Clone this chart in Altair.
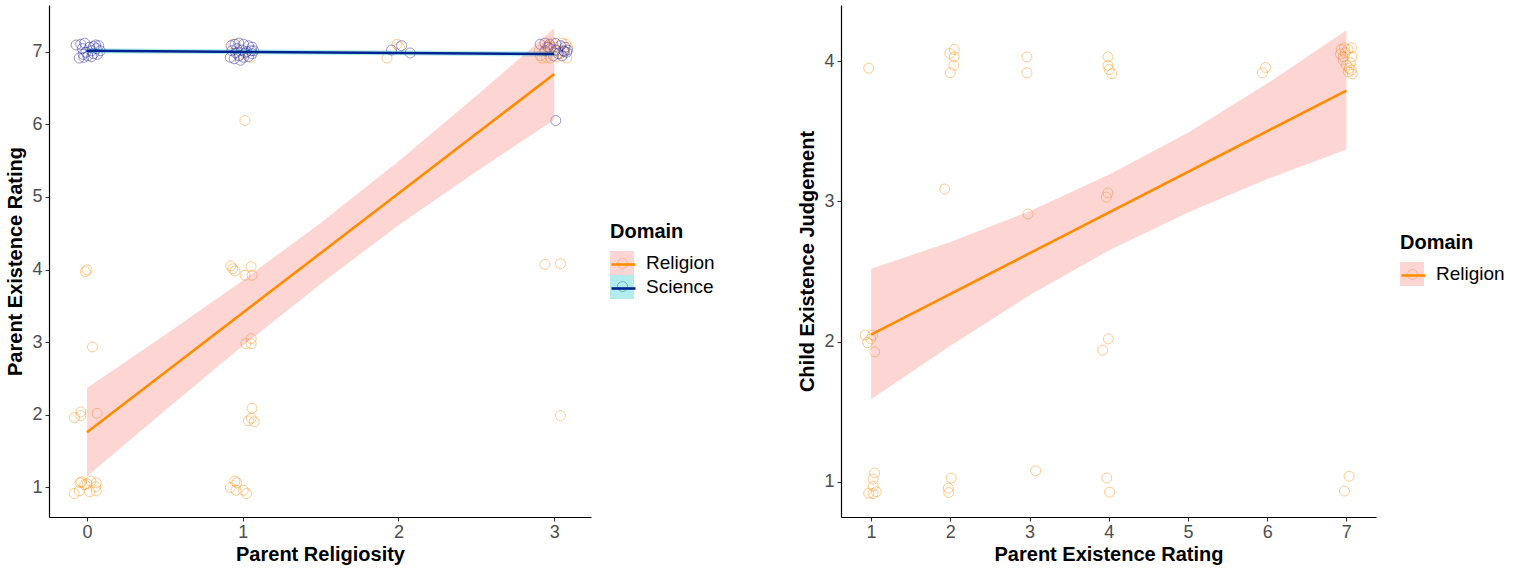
import altair as alt
import pandas as pd

FONT = "Liberation Sans"

# ---------------- Left panel: jittered points ----------------
rel1_x = [-0.082, -0.05, -0.045, -0.035, -0.015, 0.025, 0.017, 0.06, 0.055, 0.06, 0.0,
          -0.08, -0.04, -0.04, 0.065, 0.035, -0.01, 0.0,
          0.92, 0.95, 0.962, 0.957, 1.004, 1.024,
          1.06, 1.054, 1.036, 1.074, 1.02, 1.054, 1.054,
          0.923, 0.936, 0.95, 1.015, 1.053, 1.06, 1.014, 0.937, 1.05, 0.98,
          1.926, 1.99, 2.006,
          2.94, 3.04, 3.04,
          2.91, 2.92, 2.95, 2.975, 3.01, 3.04, 3.08, 3.075, 3.05, 2.99, 2.965, 3.085, 2.95, 3.02, 2.905, 3.0]
rel1_y = [0.917, 0.954, 1.065, 1.078, 1.04, 1.088, 0.94, 1.065, 1.01, 0.954, 1.05,
          1.963, 2.04, 1.99, 2.02, 2.935, 3.97, 3.995,
          1.0, 1.088, 1.065, 0.963, 0.963, 0.917,
          2.09, 1.954, 1.917, 1.903, 2.98, 3.05, 2.98,
          4.05, 4.01, 3.98, 3.92, 4.04, 3.92, 6.05, 7.1, 6.92, 6.95,
          6.91, 7.1, 7.06,
          4.07, 4.08, 1.99,
          6.94, 6.91, 6.92, 6.91, 6.93, 6.97, 6.91, 7.1, 7.115, 7.115, 7.08, 7.06, 7.06, 7.01, 7.01, 7.06]
sci1_x = [-0.07, -0.04, -0.015, 0.017, 0.042, 0.055, 0.075, 0.06, 0.085, 0.03, -0.007, -0.025,
          -0.05, -0.02, 0.005, 0.042, 0.067, 0.03, -0.03,
          0.925, 0.95, 0.975, 1.005, 1.037, 1.06, 0.93, 0.962, 0.995, 1.025, 1.055, 0.92, 0.945,
          0.975, 1.005, 1.037, 1.06, 0.985, 0.955, 1.017, 1.07,
          1.955, 2.02, 2.075,
          2.91, 2.94, 2.97, 3.01, 3.04, 3.07, 3.06, 3.08, 3.01, 2.975, 2.94, 3.025, 3.065, 3.05,
          2.995, 2.96, 3.085, 3.01]
sci1_y = [7.09, 7.10, 7.115, 7.06, 7.07, 7.09, 7.08, 7.04, 7.01, 7.01, 6.99, 6.96,
          6.91, 6.92, 6.94, 6.97, 6.96, 6.93, 7.04,
          7.08, 7.10, 7.115, 7.10, 7.08, 7.06, 7.01, 7.04, 7.02, 7.0, 7.01, 6.92, 6.90,
          6.94, 6.92, 6.93, 6.97, 6.88, 6.98, 6.98, 7.01,
          7.02, 7.08, 6.98,
          7.10, 7.115, 7.10, 7.11, 7.08, 7.06, 7.01, 6.99, 7.02, 7.04, 7.01, 6.97, 7.0, 6.94,
          6.94, 7.06, 7.02, 6.05]

# fitted lines and 95% bands
band1_x = [0, 0.5, 1, 1.5, 2, 2.5, 3]
rel1_lo = [1.15, 2.06, 2.95, 3.80, 4.61, 5.35, 6.06]
rel1_hi = [2.37, 3.10, 3.85, 4.64, 5.49, 6.39, 7.32]
sci1_band_x = [0, 1.5, 3]
sci1_lo = [6.975, 6.955, 6.93]
sci1_hi = [7.045, 7.02, 7.0]
line1_x = [0, 3]
rel1_fit = [1.76, 6.69]
sci1_fit = [7.01, 6.965]

# ---------------- Right panel ----------------
rel2_x = [0.97, 0.925, 0.955, 0.995, 1.02, 1.045, 1.045, 1.025, 1.025, 0.97, 1.025, 1.065,
          1.993, 2.05, 2.05, 2.045, 2.0, 1.93, 1.975, 2.01, 1.98,
          2.967, 2.967, 2.98, 3.077,
          3.99, 3.99, 4.005, 4.04, 3.99, 3.97, 3.925, 3.995, 3.975, 4.01,
          5.94, 5.98,
          6.935, 6.975, 7.02, 7.065, 6.925, 6.96, 6.985, 7.07, 7.0, 7.035, 7.06, 7.025, 7.075,
          6.96, 7.05, 6.975, 7.035]
rel2_y = [3.95, 2.047, 1.993, 2.02, 2.047, 1.927, 1.064, 1.02, 0.97, 0.92, 0.917, 0.93,
          4.055, 4.083, 4.03, 3.97, 3.917, 3.088, 0.956, 1.028, 0.925,
          4.03, 3.917, 2.91, 1.08,
          4.03, 3.97, 3.94, 3.91, 3.06, 3.03, 1.94, 2.02, 1.028, 0.927,
          3.917, 3.955,
          4.083, 4.095, 4.083, 4.095, 4.05, 4.03, 4.06, 4.03, 3.97, 3.948, 3.936, 3.924, 3.908,
          4.007, 3.988, 0.935, 1.04]
band2_x = [1, 2, 3, 4, 5, 6, 7]
rel2_lo = [1.59, 1.97, 2.33, 2.65, 2.92, 3.16, 3.37]
rel2_hi = [2.52, 2.71, 2.93, 3.19, 3.49, 3.84, 4.22]
line2_x = [1, 7]
rel2_fit = [2.05, 3.79]

domains = ["Religion", "Science"]

# ---------------- tables ----------------
pts1 = pd.DataFrame({"x": rel1_x + sci1_x, "y": rel1_y + sci1_y,
                     "Domain": ["Religion"] * len(rel1_x) + ["Science"] * len(sci1_x)})
band1 = pd.DataFrame({"x": band1_x + sci1_band_x, "lo": rel1_lo + sci1_lo, "hi": rel1_hi + sci1_hi,
                      "Domain": ["Religion"] * len(band1_x) + ["Science"] * len(sci1_band_x)})
line1 = pd.DataFrame({"x": line1_x + line1_x, "y": rel1_fit + sci1_fit,
                      "Domain": ["Religion"] * 2 + ["Science"] * 2})
pts2 = pd.DataFrame({"x": rel2_x, "y": rel2_y, "Domain": ["Religion"] * len(rel2_x)})
band2 = pd.DataFrame({"x": band2_x, "lo": rel2_lo, "hi": rel2_hi, "Domain": ["Religion"] * len(band2_x)})
line2 = pd.DataFrame({"x": line2_x, "y": rel2_fit, "Domain": ["Religion"] * 2})

CIRCLE = "M0.42,0A0.42,0.42,0,1,1,-0.42,0A0.42,0.42,0,1,1,0.42,0Z"


def legend_kw(lx, ly):
    return dict(orient="none", legendX=lx, legendY=ly, title="Domain",
                titleFont=FONT, titleFontSize=20, titleFontWeight="bold", titleColor="black",
                labelFont=FONT, labelFontSize=19, labelColor="black",
                titlePadding=9, rowPadding=0, labelOffset=12, symbolSize=576, padding=0)


def panel(pts, band, line, dom, xdom, ydom, xvals, yvals, xtitle, ytitle, w, h, lx, ly):
    xs = alt.Scale(domain=xdom, nice=False, zero=False)
    ys = alt.Scale(domain=ydom, nice=False, zero=False)
    xa = alt.Axis(values=xvals, format="d", title=xtitle, titlePadding=3, labelPadding=2)
    ya = alt.Axis(values=yvals, format="d", title=ytitle, titlePadding=6, labelPadding=3)
    fill_colors = {"Religion": "#F8766D", "Science": "#00BFC4"}
    stroke_colors = {"Religion": "#FF8C00", "Science": "#00238F"}
    pt_colors = {"Religion": "#FF8C00", "Science": "#1A1A9C"}
    points = alt.Chart(pts).mark_point(shape="circle", filled=False, size=100, strokeWidth=1,
                                       opacity=0.45).encode(
        x=alt.X("x:Q", scale=xs, axis=xa),
        y=alt.Y("y:Q", scale=ys, axis=ya),
        color=alt.Color("Domain:N", scale=alt.Scale(range=[pt_colors[d] for d in dom]),
                        legend=alt.Legend(symbolType=CIRCLE, symbolStrokeWidth=1,
                                          symbolOpacity=0.4, titleOpacity=0, labelOpacity=0,
                                          zindex=1, **legend_kw(lx, ly))))
    ribbon = alt.Chart(band).mark_area(opacity=0.3).encode(
        x=alt.X("x:Q", scale=xs, axis=xa),
        y=alt.Y("lo:Q", scale=ys, axis=ya),
        y2="hi:Q",
        fill=alt.Fill("Domain:N", scale=alt.Scale(domain=dom, range=[fill_colors[d] for d in dom]),
                      legend=alt.Legend(symbolType="square", symbolOpacity=0.3,
                                        symbolStrokeWidth=0, zindex=2, **legend_kw(lx, ly))))
    ln = alt.Chart(line).mark_line(strokeWidth=2.6).encode(
        x=alt.X("x:Q", scale=xs, axis=xa),
        y=alt.Y("y:Q", scale=ys, axis=ya),
        stroke=alt.Stroke("Domain:N", scale=alt.Scale(range=[stroke_colors[d] for d in dom]),
                          legend=alt.Legend(symbolType="stroke", symbolStrokeWidth=2.6,
                                            titleOpacity=0, labelOpacity=0, zindex=3,
                                            **legend_kw(lx, ly))))
    return alt.layer(points, ribbon, ln).properties(width=w, height=h).resolve_scale(
        color="independent", fill="independent", stroke="independent")


left = panel(pts1, band1, line1, domains, [-0.244, 3.236], [0.594, 7.64], [0, 1, 2, 3],
             [1, 2, 3, 4, 5, 6, 7], "Parent Religiosity", "Parent Existence Rating",
             542, 512, 561, 217)
right = panel(pts2, band2, line2, ["Religion"], [0.62, 7.374], [0.75, 4.40], [1, 2, 3, 4, 5, 6, 7],
              [1, 2, 3, 4], "Parent Existence Rating", "Child Existence Judgement",
              535, 512, 559, 228)

chart = alt.hconcat(left, right, spacing=79).properties(
    padding={"left": 5, "top": 5, "right": 5, "bottom": 5}, background="white"
).configure_view(stroke=None).configure_axis(
    grid=False, domainColor="black", domainWidth=1.2, tickColor="#333333", tickWidth=1.1,
    tickSize=4, labelColor="#4D4D4D", labelFont=FONT, labelFontSize=18,
    titleFont=FONT, titleFontSize=20, titleFontWeight="bold", titleColor="black"
)

chart.save("out.html", embed_options={"renderer": "svg", "actions": False})
